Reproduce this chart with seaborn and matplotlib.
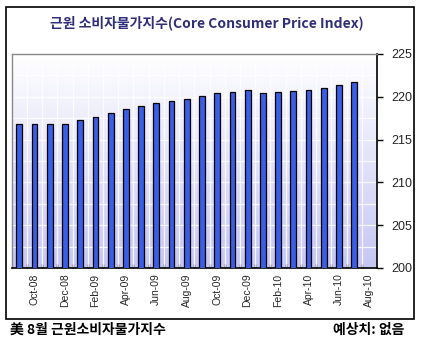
import numpy as np
import pandas as pd
import matplotlib
matplotlib.use("Agg")
import matplotlib.pyplot as plt
from matplotlib.patches import Rectangle
import seaborn as sns

months = ["Sep-08", "Oct-08", "Nov-08", "Dec-08", "Jan-09", "Feb-09", "Mar-09", "Apr-09",
          "May-09", "Jun-09", "Jul-09", "Aug-09", "Sep-09", "Oct-09", "Nov-09", "Dec-09",
          "Jan-10", "Feb-10", "Mar-10", "Apr-10", "May-10", "Jun-10", "Jul-10", "Aug-10"]
core_cpi = [216.8, 216.8, 216.8, 216.8, 217.25, 217.64, 218.07, 218.54,
            218.93, 219.24, 219.47, 219.71, 220.06, 220.41, 220.53, 220.76,
            220.41, 220.53, 220.64, 220.76, 220.99, 221.34, 221.69, np.nan]
y_ticks = [200, 205, 210, 215, 220, 225]

title = "근원 소비자물가지수(Core Consumer Price Index)"
footer_left = "美 8월 근원소비자물가지수"
footer_right = "예상치: 없음"

sns.set_theme(style="white")
plt.rcParams['font.family'] = ['Noto Sans CJK KR', 'DejaVu Sans']

W, H = 422, 345
fig = plt.figure(figsize=(W / 100, H / 100), dpi=100)
fig.patch.set_facecolor("white")

# outer frame
fig.patches.append(Rectangle((6 / W, 1 - 319 / H), 408 / W, 312 / H,
                             transform=fig.transFigure, fill=False,
                             edgecolor="black", linewidth=1.2))

left, right, top, bottom = 12, 377, 54, 268
ax = fig.add_axes([left / W, 1 - bottom / H, (right - left) / W, (bottom - top) / H])

# gradient background
grad = np.linspace(0, 1, 256).reshape(-1, 1)
cmap = matplotlib.colors.LinearSegmentedColormap.from_list("bg", ["#ffffff", "#c6c6f4"])
ax.imshow(grad, extent=[0, 1, 0, 1], transform=ax.transAxes, aspect="auto",
          cmap=cmap, zorder=0, origin="upper")

df = pd.DataFrame({"month": months, "value": core_cpi})
sns.barplot(data=df, x="month", y="value", order=months, color="#3a5ee6",
            saturation=1, width=0.38, edgecolor="black", linewidth=0.9, ax=ax, zorder=3)

ax.set_xlim(-0.48, len(months) - 0.5)
ax.set_ylim(200, 225)

# white grid lines
for yv in np.arange(202.5, 225, 2.5):
    ax.axhline(yv, color="white", linewidth=0.9, alpha=0.85, zorder=1)
for xv in np.arange(0.5, len(months) - 0.5, 1):
    ax.axvline(xv, color="white", linewidth=0.9, alpha=0.85, zorder=1)

# y axis on right
ax.yaxis.tick_right()
ax.set_yticks(y_ticks)
ax.set_yticklabels([str(v) for v in y_ticks], family="Liberation Sans", fontsize=9)
ax.tick_params(axis="y", which="major", direction="out", length=4, width=1,
               color="black", pad=6, right=True, left=False)

# x axis
idx = list(range(1, len(months), 2))
ax.set_xticks(idx)
ax.set_xticklabels([months[i] for i in idx], rotation=90, family="Liberation Sans",
                   fontsize=7.5)
ax.set_xticks(np.arange(0.5, len(months) - 0.5, 1), minor=True)
ax.tick_params(axis="x", which="major", length=0, pad=4)
ax.tick_params(axis="x", which="minor", direction="in", length=3, width=1,
               color="black", bottom=True)
ax.set_xlabel("")
ax.set_ylabel("")

for s in ["top", "left"]:
    ax.spines[s].set_color("#888888")
    ax.spines[s].set_linewidth(1)
for s in ["bottom", "right"]:
    ax.spines[s].set_color("black")
    ax.spines[s].set_linewidth(1.2)

fig.text(207 / W, 1 - 23 / H, title, ha="center", va="center", fontsize=10,
         fontweight="bold", color="#2e2e7a")
fig.text(10 / W, 1 - 330 / H, footer_left, ha="left", va="center", fontsize=10,
         fontweight="bold", color="black")
fig.text(404 / W, 1 - 330 / H, footer_right, ha="right", va="center", fontsize=10,
         fontweight="bold", color="black")

fig.savefig("out.png", dpi=100)
